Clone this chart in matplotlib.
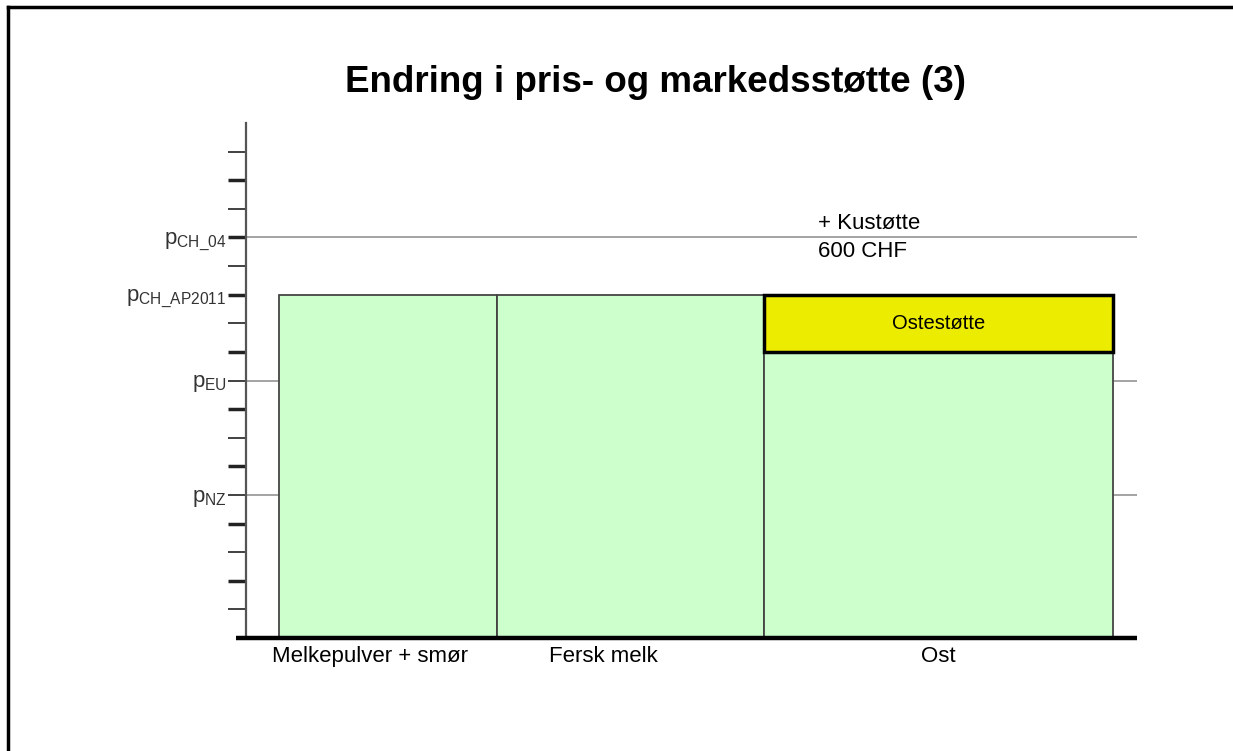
import numpy as np
import matplotlib
matplotlib.use('Agg')
import matplotlib.pyplot as plt
from matplotlib.lines import Line2D

plt.rcParams['font.family'] = ['Liberation Sans', 'DejaVu Sans']
plt.rcParams['mathtext.fontset'] = 'custom'
plt.rcParams['mathtext.rm'] = 'Liberation Sans'

# data
categories = ['Melkepulver + smør', 'Fersk melk', 'Ost']
widths = [218, 267, 349]          # category widths
base_price = [12, 12, 10]         # green bar heights
cheese_support = [0, 0, 2]        # yellow "Ostestøtte" on top
price_levels = [14, 12, 9, 5]
price_labels = [r'$\mathregular{p_{CH\_04}}$', r'$\mathregular{p_{CH\_AP2011}}$',
                r'$\mathregular{p_{EU}}$', r'$\mathregular{p_{NZ}}$']
ref_lines = [14, 9, 5]

start_gap = 33
lefts = start_gap + np.concatenate([[0], np.cumsum(widths)[:-1]])
label_shift = [-18, -27, 0]

fig = plt.figure(figsize=(12.33, 7.51), dpi=100)
ax = fig.add_axes([246 / 1233, 1 - 638 / 751, (1137 - 246) / 1233, (638 - 123) / 751])

for y in ref_lines:
    ax.axhline(y, color='#8a8a8a', lw=1.1, zorder=1)

ax.bar(lefts, base_price, width=widths, align='edge', color='#ccffcc',
       edgecolor='#444444', linewidth=1.3, zorder=2)
ost = np.array(cheese_support) > 0
ax.bar(lefts[ost], np.array(cheese_support)[ost], width=np.array(widths)[ost],
       bottom=np.array(base_price)[ost], align='edge', color='#ecec00',
       edgecolor='black', linewidth=2.5, zorder=3)
for l, w, b, c in zip(lefts, widths, base_price, cheese_support):
    if c > 0:
        ax.text(l + w / 2, b + c / 2, 'Ostestøtte', ha='center', va='center',
                fontsize=14.5, zorder=4)

ax.text(start_gap + sum(widths[:2]) + 54, 14.0, '+ Kustøtte\n600 CHF',
        ha='left', va='center', fontsize=16, linespacing=1.45, zorder=4)

ax.set_xlim(0, 891)
ax.set_ylim(0, 18)

# even positions: thick ticks, odd positions: thin ticks
ax.set_yticks(list(range(2, 18, 2)))
ax.set_yticks(list(range(1, 18, 2)), minor=True)
fmt = plt.FuncFormatter(lambda v, p: price_labels[price_levels.index(int(round(v)))]
                        if int(round(v)) in price_levels else '')
ax.yaxis.set_major_formatter(fmt)
ax.yaxis.set_minor_formatter(fmt)
ax.tick_params(axis='y', which='major', direction='out', length=13, width=2.5,
               color='#222222', pad=1, labelsize=16, labelcolor='#333333')
ax.tick_params(axis='y', which='minor', direction='out', length=13, width=1.3,
               color='#333333', pad=1, labelsize=16, labelcolor='#333333')

ax.set_xticks(lefts + np.array(widths) / 2 + np.array(label_shift))
ax.set_xticklabels(categories, fontsize=16)
ax.tick_params(axis='x', length=0, pad=6)

for s in ['top', 'right', 'bottom']:
    ax.spines[s].set_visible(False)
ax.spines['left'].set_color('#555555')
ax.spines['left'].set_linewidth(1.6)
ax.plot([-10 / 891, 1], [0, 0], transform=ax.transAxes, color='black', lw=3.2,
        clip_on=False, zorder=5, solid_capstyle='butt')

fig.text(655 / 1233, 1 - 83 / 751, 'Endring i pris- og markedsstøtte (3)',
         ha='center', va='center', fontsize=26.5, fontweight='bold')

fig.add_artist(Line2D([8 / 1233, 1], [1 - 7 / 751, 1 - 7 / 751],
                      transform=fig.transFigure, color='black', lw=2.5))
fig.add_artist(Line2D([8 / 1233, 8 / 1233], [1 - 7 / 751, 0],
                      transform=fig.transFigure, color='black', lw=2.5))

fig.savefig('out.png', dpi=100)
